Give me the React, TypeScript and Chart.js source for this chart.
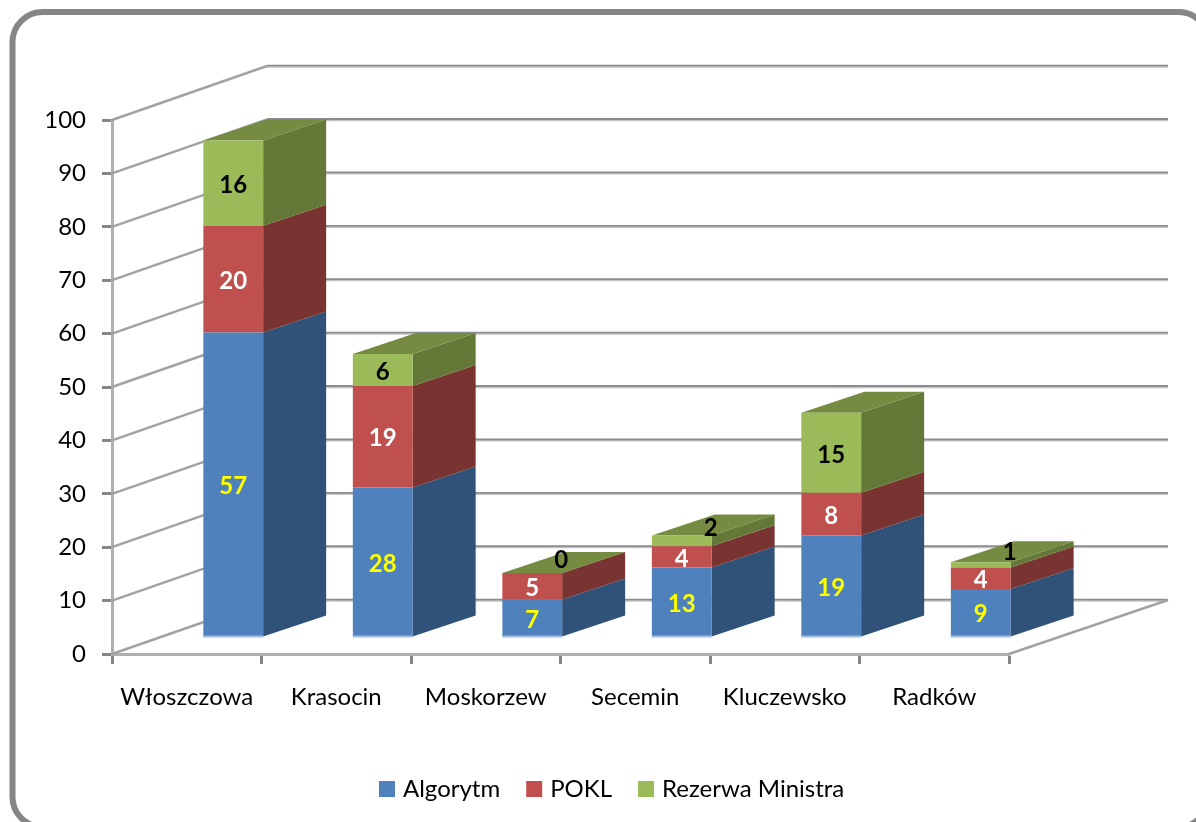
import React, { useEffect, useRef } from "react";
import { Chart, registerables } from "chart.js";

Chart.register(...registerables);

const categories = ["Włoszczowa", "Krasocin", "Moskorzew", "Secemin", "Kluczewsko", "Radków"];
const algorytm = [57, 28, 7, 13, 19, 9];
const pokl = [20, 19, 5, 4, 8, 4];
const rezerwa = [16, 6, 0, 2, 15, 1];
const yTicks = [0, 10, 20, 30, 40, 50, 60, 70, 80, 90, 100];

const FRONT = ["#4F81BD", "#C0504D", "#9BBB59"];
const SIDE = ["#315278", "#793330", "#647837"];
const TOP = "#748B41";
const LABEL = ["#FFFF00", "#FFFFFF", "#000000"];

const BAR_DX = 46.5;
const BAR_DY = -17;
const DEPTH_X = 63;
const DEPTH_Y = -21;
const WALL_LEFT_DX = 155;
const WALL_RIGHT_DX = 159;
const WALL_DY = -54;

const FONT = "Lato";

const scene = {
  id: "scene",
  beforeDraw(chart: any) {
    const { ctx } = chart;
    ctx.save();
    ctx.fillStyle = "#FFFFFF";
    ctx.fillRect(0, 0, chart.width, chart.height);
    ctx.strokeStyle = "#868686";
    ctx.lineWidth = 6;
    ctx.beginPath();
    ctx.roundRect(12.5, 12, 1196, 815, 30);
    ctx.stroke();
    ctx.restore();
  },
  afterLayout(chart: any) {
    const l = chart.legend;
    const pad = l.options.labels.padding;
    l.left = 383 - pad;
    l.right = l.left + pad + l.lineWidths[0];
    l.top = 777 - pad;
  },
  beforeDatasetsDraw(chart: any) {
    const { ctx, chartArea, scales } = chart;
    const y = scales.y;
    ctx.save();
    const seg = (x1: number, y1: number, x2: number, y2: number, color: string, w: number) => {
      ctx.strokeStyle = color;
      ctx.lineWidth = w;
      ctx.beginPath();
      ctx.moveTo(x1, y1);
      ctx.lineTo(x2, y2);
      ctx.stroke();
    };
    const left = chartArea.left;
    const backL = left + WALL_LEFT_DX;
    const backR = chartArea.right + WALL_RIGHT_DX;
    yTicks.forEach((t) => {
      const py = y.getPixelForValue(t);
      seg(left, py, backL, py + WALL_DY, "#A2A2A2", 2.4);
      seg(backL, py + WALL_DY + 1, backR, py + WALL_DY + 1, "#C4C4C4", 1.5);
      seg(backL, py + WALL_DY - 0.4, backR, py + WALL_DY - 0.4, "#8C8C8C", 1.8);
    });
    const floor = y.getPixelForValue(0);
    seg(chartArea.right, floor, backR, floor + WALL_DY, "#A2A2A2", 2.4);

    const metas = [0, 1, 2].map((i) => chart.getDatasetMeta(i));
    categories.forEach((_, j) => {
      metas.forEach((meta, i) => {
        const el = meta.data[j];
        const r = el.x + el.width / 2 + BAR_DX;
        const t = el.y + BAR_DY;
        const b = el.base + BAR_DY;
        ctx.fillStyle = SIDE[i];
        ctx.beginPath();
        ctx.moveTo(r, t);
        ctx.lineTo(r + DEPTH_X, t + DEPTH_Y);
        ctx.lineTo(r + DEPTH_X, b + DEPTH_Y);
        ctx.lineTo(r, b);
        ctx.closePath();
        ctx.fill();
      });
      const el = metas[2].data[j];
      const l = el.x - el.width / 2 + BAR_DX;
      const r = el.x + el.width / 2 + BAR_DX;
      const t = el.y + BAR_DY;
      ctx.fillStyle = TOP;
      ctx.beginPath();
      ctx.moveTo(l, t);
      ctx.lineTo(r, t);
      ctx.lineTo(r + DEPTH_X, t + DEPTH_Y);
      ctx.lineTo(l + DEPTH_X, t + DEPTH_Y);
      ctx.closePath();
      ctx.fill();
    });
    ctx.restore();
    ctx.save();
    ctx.translate(BAR_DX, BAR_DY);
  },
  afterDatasetsDraw(chart: any) {
    const { ctx } = chart;
    ctx.restore();
    ctx.save();
    // pale lower edge of each column
    chart.getDatasetMeta(0).data.forEach((el: any) => {
      ctx.fillStyle = "#A3BBDC";
      ctx.fillRect(el.x - el.width / 2 + BAR_DX, el.base + BAR_DY - 1, el.width, 2);
    });
    ctx.font = `bold 24px ${FONT}`;
    ctx.textAlign = "center";
    ctx.textBaseline = "middle";
    [0, 1, 2].forEach((i) => {
      const values = chart.data.datasets[i].data;
      chart.getDatasetMeta(i).data.forEach((el: any, j: number) => {
        const h = Math.abs(el.base - el.y);
        const thin = h < 14;
        const x = el.x + BAR_DX + (thin ? 29 : 0);
        const y = (el.y + el.base) / 2 + BAR_DY + (thin ? -13 : 2);
        ctx.fillStyle = LABEL[i];
        ctx.fillText(String(values[j]), x, y);
      });
    });
    ctx.restore();
  },
};

export default function App() {
  const ref = useRef<HTMLCanvasElement | null>(null);
  useEffect(() => {
    document.body.style.margin = "0";
    const chart = new Chart(ref.current as HTMLCanvasElement, {
      type: "bar",
      data: {
        labels: categories,
        datasets: [
          { label: "Algorytm", data: algorytm, backgroundColor: FRONT[0], clip: false },
          { label: "POKL", data: pokl, backgroundColor: FRONT[1], clip: false },
          { label: "Rezerwa Ministra", data: rezerwa, backgroundColor: FRONT[2], clip: false },
        ] as any,
      },
      options: {
        animation: false,
        responsive: false,
        maintainAspectRatio: false,
        layout: { padding: { top: 120, right: 187, left: 0, bottom: 0 } },
        datasets: { bar: { barPercentage: 0.4, categoryPercentage: 1 } } as any,
        plugins: {
          tooltip: { enabled: false },
          title: { display: false },
          legend: {
            display: true,
            position: "bottom",
            labels: {
              usePointStyle: true,
              pointStyle: "rect",
              boxWidth: 8,
              boxHeight: 16,
              padding: 30,
              color: "#000000",
              font: { family: FONT, size: 24 },
            },
          },
        },
        scales: {
          x: {
            stacked: true,
            grid: { drawOnChartArea: false, tickLength: 10, tickColor: "#868686", tickWidth: 3 },
            border: { color: "#B0B0B0", width: 3 },
            ticks: {
              color: "#000000",
              font: { family: FONT, size: 24 },
              padding: 19,
              maxRotation: 0,
              autoSkip: false,
            },
            afterFit(a: any) {
              a.height = 822 - 654 - a.chart.legend.height;
            },
          },
          y: {
            stacked: true,
            min: 0,
            max: 100,
            afterBuildTicks(a: any) {
              a.ticks = yTicks.map((value) => ({ value }));
            },
            grid: { drawOnChartArea: false, tickLength: 10, tickColor: "#868686", tickWidth: 3 },
            border: { color: "#B0B0B0", width: 3 },
            ticks: {
              color: "#000000",
              font: { family: FONT, size: 24 },
              padding: 16,
            },
            afterFit(a: any) {
              a.width = 112;
            },
          },
        },
      } as any,
      plugins: [scene as any],
    });
    return () => chart.destroy();
  }, []);
  return (
    <canvas
      ref={ref}
      width={1196}
      height={822}
      style={{ display: "block", position: "absolute", left: 0, top: 0 }}
    />
  );
}
